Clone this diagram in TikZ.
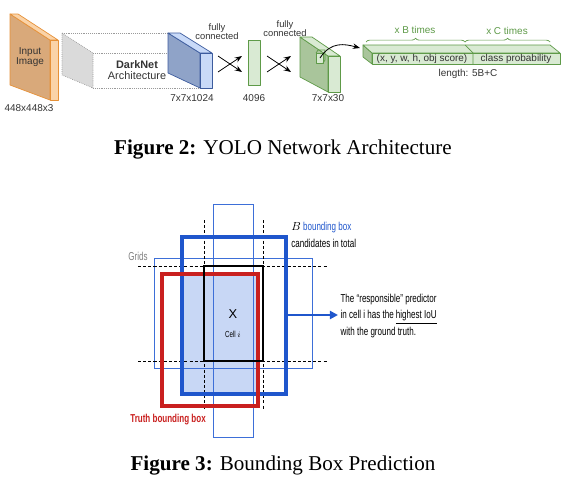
\documentclass[tikz,border=0pt]{standalone}
\usepackage{fontspec}
\setmainfont{Liberation Serif}
\setsansfont{Liberation Sans}
\newfontfamily\narrowsans[FakeStretch=0.7]{Liberation Sans}
\usetikzlibrary{positioning,arrows.meta,decorations.pathreplacing,calc}

\definecolor{txtgray}{HTML}{333333}
\definecolor{inface}{HTML}{D9A97A}
\definecolor{inlight}{HTML}{FAD3A8}
\definecolor{inedge}{HTML}{E69138}
\definecolor{dnface}{HTML}{DADADA}
\definecolor{dngray}{HTML}{9A9A9A}
\definecolor{bkface}{HTML}{8FA3C8}
\definecolor{bklight}{HTML}{C9DAF8}
\definecolor{bkedge}{HTML}{3D5C9E}
\definecolor{gnface}{HTML}{A9C59B}
\definecolor{gnlight}{HTML}{D9EAD3}
\definecolor{gnedge}{HTML}{5E9A48}
\definecolor{thinblue}{HTML}{3D6FD8}
\definecolor{thickblue}{HTML}{1F56CC}
\definecolor{truthred}{HTML}{C9201F}
\definecolor{cellfill}{HTML}{C8D7F5}

\begin{document}
\begin{tikzpicture}[
  x=0.03cm, y=-0.03cm,
  >=Stealth,
  small/.style={font=\sffamily\fontsize{8.5}{8.8}\selectfont, text=txtgray, inner sep=1pt, align=center},
  fclabel/.style={small, font=\sffamily\fontsize{8}{7.6}\selectfont},
  note/.style={font=\narrowsans\fontsize{9.8}{14}\selectfont, inner sep=1pt, align=left},
  figcap/.style={font=\fontsize{18}{21}\selectfont, inner sep=0pt},
  face/.style={line width=0.6pt, line join=round},
  fcarrow/.style={->, line width=0.7pt},
  slotbrace/.style={decorate, decoration={brace, amplitude=3.2pt}, draw=gnedge, line width=0.6pt},
  dashgrid/.style={dash pattern=on 2.6pt off 1.8pt, line width=0.6pt},
  candbox/.style={draw=thinblue, line width=0.8pt}
]
  \useasboundingbox (0,0) rectangle (569,500);

  % ---- Figure 2: network ----
  % input image slab
  \filldraw[face, fill=inface, draw=inedge] (10,14) -- (50,40) -- (50,100) -- (10,85) -- cycle;
  \filldraw[face, fill=inlight, draw=inedge] (10,14) -- (18,14) -- (58,40) -- (50,40) -- cycle;
  \filldraw[face, fill=inlight, draw=inedge] (50,40) -- (58,40) -- (58,100) -- (50,100) -- cycle;
  \node[small] (inlbl) at (30,57) {Input\\Image};
  \node[small] (insize) at (29,108) {448x448x3};

  % darknet block
  \filldraw[face, fill=dnface, draw=dngray, densely dotted] (62,33) -- (93,53) -- (93,88) -- (62,75) -- cycle;
  \draw[dngray, densely dotted, line width=0.6pt] (62,33) -- (168,33) (93,53) -- (200,53) (93,88) -- (200,88);
  \node[small, font=\sffamily\fontsize{9.3}{8.8}\selectfont] (dark) at (137,70) {\textbf{DarkNet}\\Architecture};

  % conv output 7x7x1024
  \filldraw[face, fill=bkface, draw=bkedge] (168,33) -- (200,53) -- (200,88) -- (168,73) -- cycle;
  \filldraw[face, fill=bklight, draw=bkedge] (168,33) -- (180,33) -- (212,53) -- (200,53) -- cycle;
  \filldraw[face, fill=bklight, draw=bkedge] (200,53) -- (212,53) -- (212,88) -- (200,88) -- cycle;
  \node[small] (size1) at (192,98) {7x7x1024};

  \node[fclabel] (fc1) at (217,32) {fully\\connected};
  \coordinate (xa1) at (218,56); \coordinate (xb1) at (242,72);
  \coordinate (xc1) at (218,72); \coordinate (xd1) at (242,56);
  \draw[fcarrow] (xa1) -- (xb1);
  \draw[fcarrow] (xc1) -- (xd1);

  % fc layer 4096
  \filldraw[face, fill=gnlight, draw=gnedge] (248,40) rectangle (260,85);
  \node[small] (size2) at (254,98) {4096};

  \node[fclabel] (fc2) at (285,29) {fully\\connected};
  \coordinate (xa2) at (267,56); \coordinate (xb2) at (291,72);
  \coordinate (xc2) at (267,72); \coordinate (xd2) at (291,56);
  \draw[fcarrow] (xa2) -- (xb2);
  \draw[fcarrow] (xc2) -- (xd2);

  % output tensor 7x7x30
  \filldraw[face, fill=gnface, draw=gnedge] (300,37) -- (328,56) -- (328,92) -- (300,77) -- cycle;
  \filldraw[face, fill=gnlight, draw=gnedge] (300,37) -- (312,37) -- (340,56) -- (328,56) -- cycle;
  \filldraw[face, fill=gnlight, draw=gnedge] (328,56) -- (340,56) -- (340,92) -- (328,92) -- cycle;
  \filldraw[face, fill=gnlight, draw=gnedge] (316,53) rectangle (323,63);
  \draw[face, gnedge] (316,53) -- (318,50) -- (325,50) -- (325,60) -- (323,63);
  \node[small] (size3) at (328,98) {7x7x30};

  % one cell vector
  \coordinate (cellsrc) at (320,58);
  \coordinate (vecin) at (360,48);
  \draw[fcarrow] (cellsrc) .. controls (331,41) and (345,44) .. (vecin);
  \filldraw[face, fill=gnface, draw=gnedge] (363,45) -- (372,53) -- (372,64) -- (363,57) -- cycle;
  \filldraw[face, fill=gnlight, draw=gnedge] (363,45) -- (550,45) -- (560,53) -- (372,53) -- cycle;
  \filldraw[face, fill=gnlight, draw=gnedge] (372,53) rectangle (560,64);
  \draw[face, gnedge] (465,45) -- (473,53) -- (473,64);
  \node[small] (slota) at (422,59) {(x, y, w, h, obj score)};
  \node[small] (slotb) at (516,59) {class probability};
  \node[small] (veclen) at (468,74) {length: 5B+C};

  \coordinate (ba) at (366,42); \coordinate (bb) at (465,42); \coordinate (bc) at (550,42);
  \draw[slotbrace] (ba) -- (bb);
  \draw[slotbrace] (bb) -- (bc);
  \node[small, text=gnedge] (btimes) at (415,30) {x B times};
  \node[small, text=gnedge] (ctimes) at (507,31) {x C times};

  \node[figcap] (cap2) at (283,150) {\textbf{Figure 2:} YOLO Network Architecture};

  % ---- Figure 3: bounding boxes ----
  \fill[cellfill] (182,274) rectangle (258,394);
  \draw[candbox] (213,204) rectangle (253,437);
  \draw[candbox] (154,258) rectangle (312,368);
  \draw[dashgrid] (204,220) -- (204,410) (263,220) -- (263,410)
                  (138,266) -- (327,266) (138,361) -- (327,361);
  \draw[thickblue, line width=3.3pt] (182,237) rectangle (286,394);
  \draw[truthred, line width=3.3pt] (162,274) rectangle (258,406);
  \draw[line width=1.3pt] (204,266) rectangle (263,361);

  \node[note, text=gray] (grids) at (138,256) {Grids};
  \node[font=\sffamily\fontsize{11}{12}\selectfont, inner sep=0pt] (cx) at (233,314) {X};
  \node[note, font=\narrowsans\fontsize{7.5}{9}\selectfont] (cell) at (233,334) {Cell $i$};
  \node[note, anchor=west] (bbox) at (290,228) {$B$ \textcolor{thickblue}{bounding box}};
  \node[note, anchor=west] (cand) at (290,243) {candidates in total};
  \node[note, text=truthred, font=\narrowsans\bfseries\fontsize{9.8}{11}\selectfont] (truth) at (168,420) {Truth bounding box};
  \node[note, anchor=west, inner sep=2pt] (resp) at (338,316) {The “responsible” predictor\\in cell i has the \underline{highest IoU}\\with the ground truth.};

  \coordinate (bbright) at (286,315);
  \draw[-{Triangle[length=7pt,width=7pt]}, thickblue, line width=1.8pt] (bbright) -- (bbright -| resp.west);

  \node[figcap] (cap3) at (283,466) {\textbf{Figure 3:} Bounding Box Prediction};
\end{tikzpicture}
\end{document}
